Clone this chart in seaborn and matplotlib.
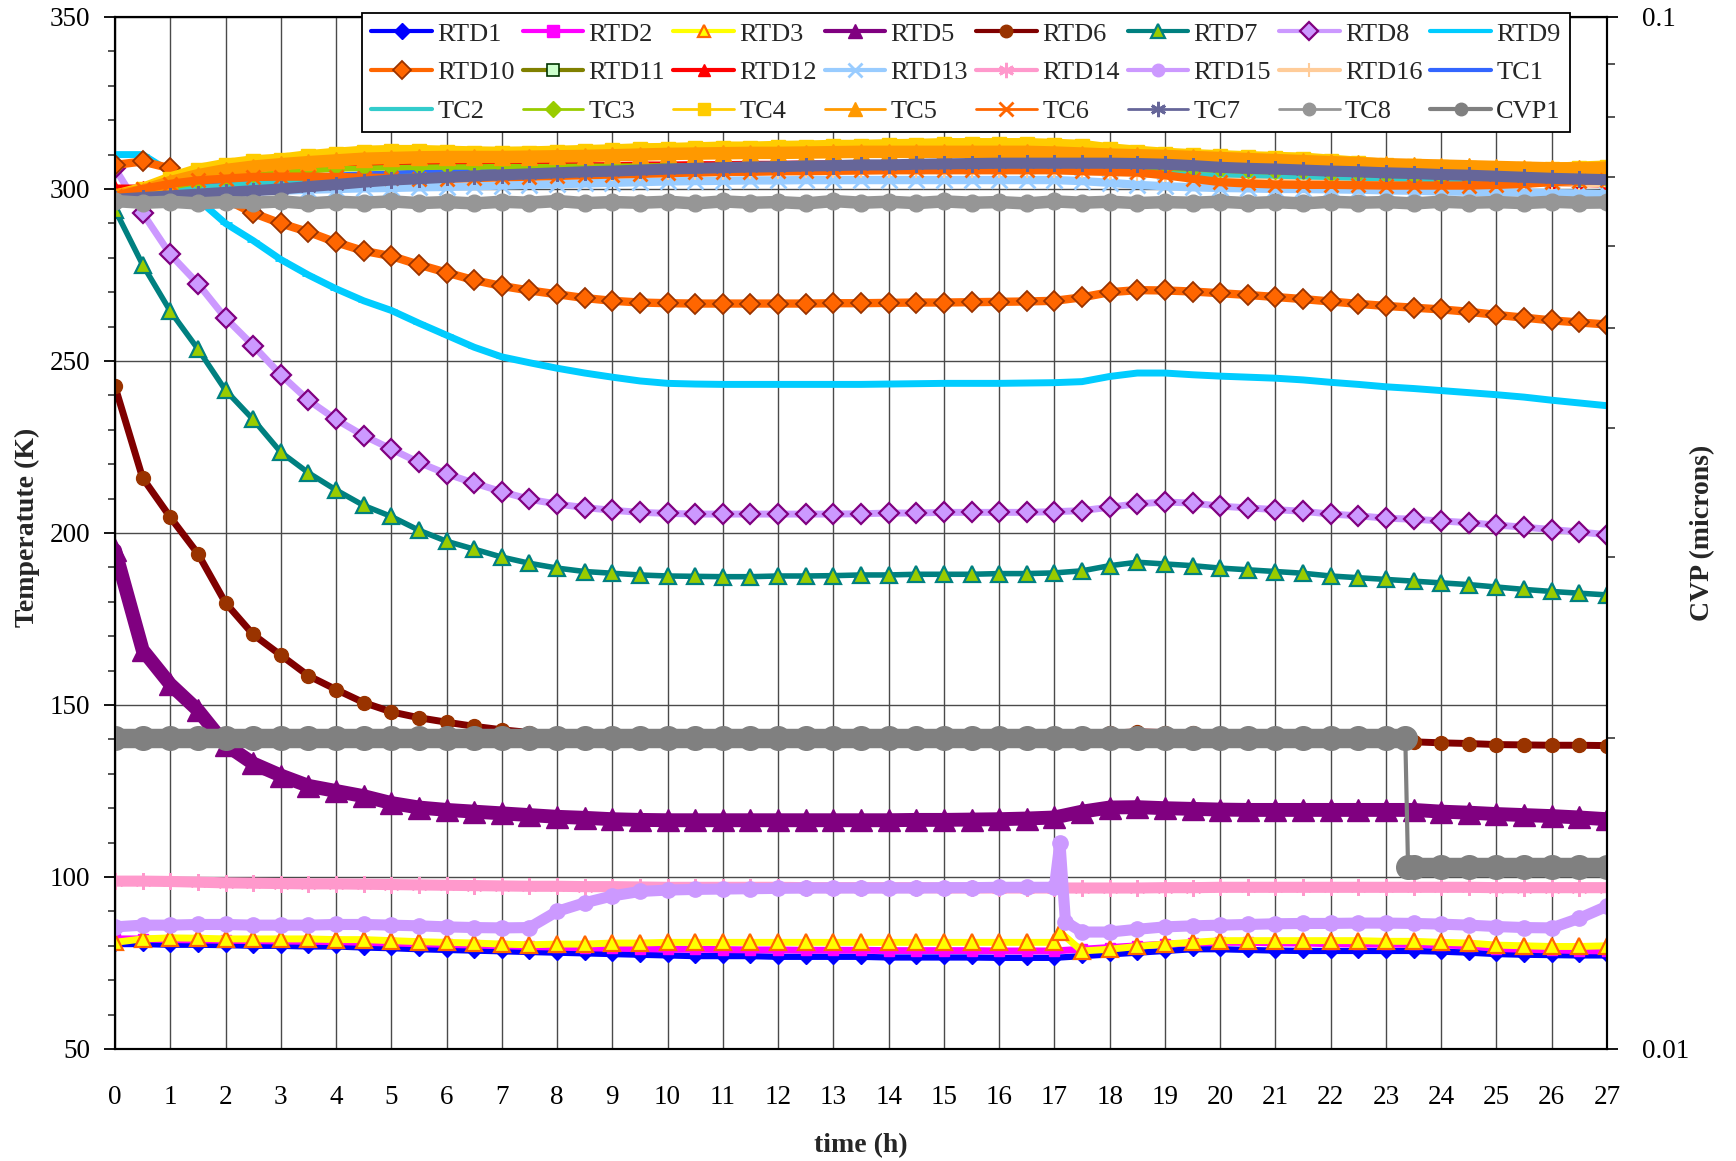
import matplotlib
matplotlib.use("Agg")
import matplotlib.pyplot as plt
from matplotlib.lines import Line2D
from matplotlib.ticker import MultipleLocator, FixedLocator, FixedFormatter, NullFormatter
import pandas as pd
import seaborn as sns

# ---------------- data ----------------
hours = [i * 0.5 for i in range(55)]          # 0 .. 27 h, every 0.5 h
hours_spike1 = hours[:35] + [17.1] + hours[35:]          # RTD3
hours_spike2 = hours[:35] + [17.1, 17.2] + hours[35:]    # RTD15
cvp_hours = hours[:47] + [23.35, 23.4] + hours[47:]

rtd1 = [80.5, 80.5, 80.3, 80.3, 80.2, 80.0, 80.0, 79.8, 79.8, 79.5,
        79.3, 79.0, 78.8, 78.6, 78.4, 78.2, 78.0, 77.8, 77.6, 77.4,
        77.2, 77.0, 77.0, 77.0, 76.8, 76.8, 76.8, 76.8, 76.6, 76.6,
        76.6, 76.6, 76.5, 76.5, 76.5, 77.0, 77.5, 78.0, 78.5, 79.0,
        79.0, 78.8, 78.6, 78.5, 78.5, 78.5, 78.5, 78.5, 78.3, 78.0,
        77.6, 77.4, 77.3, 77.2, 77.2]
rtd2 = [82.0, 82.0, 81.8, 81.7, 81.6, 81.5, 81.4, 81.3, 81.2, 81.0,
        80.8, 80.6, 80.4, 80.2, 80.0, 79.8, 79.6, 79.4, 79.3, 79.2,
        79.0, 79.0, 78.9, 78.8, 78.8, 78.7, 78.7, 78.7, 78.6, 78.6,
        78.6, 78.6, 78.5, 78.5, 78.5, 79.0, 79.5, 80.0, 80.5, 80.8,
        81.0, 81.0, 80.8, 80.8, 80.6, 80.5, 80.5, 80.4, 80.2, 80.0,
        79.2, 79.0, 78.8, 78.6, 78.5]
rtd3 = [81.0, 82.0, 82.3, 82.2, 82.0, 82.0, 82.0, 82.0, 81.8, 81.8,
        81.5, 81.2, 81.0, 80.8, 80.5, 80.3, 80.5, 80.5, 80.8, 80.8,
        81.0, 81.0, 81.0, 81.0, 81.0, 81.0, 81.0, 81.0, 81.0, 81.0,
        81.0, 81.0, 81.0, 81.0, 81.0, 84.0, 78.5, 79.0, 79.8, 80.5, 81.0,
        81.5, 81.5, 81.5, 81.5, 81.5, 81.5, 81.3, 81.3, 81.0, 80.8,
        80.2, 80.0, 79.8, 79.8, 80.0]
rtd5 = [195.0, 166.0, 156.0, 148.5, 138.5, 133.0, 129.5, 126.5, 125.0, 123.5,
        121.5, 120.2, 119.5, 119.0, 118.5, 118.0, 117.5, 117.2, 116.8, 116.6,
        116.5, 116.5, 116.5, 116.5, 116.5, 116.5, 116.5, 116.5, 116.5, 116.6,
        116.6, 116.7, 116.8, 117.0, 117.3, 119.0, 120.2, 120.3, 120.0, 119.8,
        119.6, 119.5, 119.5, 119.5, 119.5, 119.5, 119.5, 119.5, 119.0, 118.7,
        118.3, 118.0, 117.7, 117.3, 116.8]
rtd6 = [242.6, 216.0, 204.6, 194.0, 179.7, 170.5, 164.5, 158.5, 154.5, 150.7,
        148.0, 146.3, 145.0, 143.8, 142.8, 142.0, 141.5, 141.2, 141.0, 141.0,
        141.0, 141.0, 141.0, 141.0, 141.0, 141.0, 141.0, 141.0, 141.0, 141.0,
        141.0, 141.0, 141.0, 141.0, 141.0, 141.3, 141.8, 142.2, 142.0, 141.8,
        141.5, 141.2, 141.0, 140.6, 140.3, 140.0, 139.6, 139.3, 139.0, 138.8,
        138.5, 138.4, 138.3, 138.3, 138.2]
rtd7 = [294.0, 278.0, 264.5, 253.5, 241.5, 233.0, 223.5, 217.5, 212.5, 208.0,
        204.8, 200.8, 197.6, 195.3, 193.0, 191.2, 189.8, 188.8, 188.3, 187.8,
        187.5, 187.4, 187.3, 187.3, 187.5, 187.5, 187.6, 187.8, 187.8, 188.0,
        188.0, 188.0, 188.2, 188.2, 188.4, 189.0, 190.5, 191.5, 191.0, 190.5,
        189.8, 189.3, 188.8, 188.3, 187.5, 187.0, 186.5, 186.0, 185.5, 185.0,
        184.3, 183.6, 183.0, 182.5, 182.0]
rtd8 = [306.0, 293.0, 281.0, 272.5, 262.5, 254.5, 246.0, 238.6, 233.0, 228.3,
        224.4, 220.5, 217.2, 214.5, 212.0, 209.8, 208.4, 207.4, 206.6, 206.0,
        205.7, 205.5, 205.5, 205.5, 205.5, 205.5, 205.5, 205.6, 205.8, 205.8,
        206.0, 206.0, 206.0, 206.0, 206.2, 206.5, 207.5, 208.5, 209.0, 208.7,
        207.8, 207.3, 206.8, 206.3, 205.5, 205.0, 204.3, 204.0, 203.5, 203.0,
        202.3, 201.7, 201.0, 200.3, 199.5]
rtd9 = [310.0, 310.0, 305.0, 297.0, 290.0, 285.0, 279.5, 275.0, 271.0, 267.5,
        264.7, 261.0, 257.5, 254.0, 251.2, 249.5, 247.9, 246.5, 245.3, 244.2,
        243.5, 243.3, 243.2, 243.2, 243.2, 243.2, 243.2, 243.2, 243.3, 243.4,
        243.5, 243.5, 243.5, 243.6, 243.7, 244.0, 245.5, 246.5, 246.5, 246.0,
        245.6, 245.3, 245.0, 244.5, 243.8, 243.2, 242.5, 242.0, 241.4, 240.8,
        240.2, 239.5, 238.6, 237.8, 237.0]
rtd10 = [307.0, 308.0, 306.0, 301.5, 297.0, 293.0, 290.0, 287.5, 284.5, 282.0,
         280.5, 278.0, 275.7, 273.5, 271.8, 270.5, 269.4, 268.3, 267.5, 267.0,
         266.8, 266.7, 266.7, 266.7, 266.7, 266.7, 266.8, 266.8, 266.9, 267.0,
         267.0, 267.1, 267.2, 267.3, 267.5, 268.5, 270.0, 270.6, 270.5, 270.2,
         269.7, 269.2, 268.6, 268.0, 267.3, 266.6, 266.0, 265.5, 265.0, 264.3,
         263.4, 262.6, 261.8, 261.2, 260.6]
rtd11 = [298.0, 298.8, 299.8, 300.8, 301.6, 302.2, 302.6, 303.0, 303.3, 303.6,
         303.8, 304.0, 304.2, 304.4, 304.6, 304.8, 305.0, 305.2, 305.3, 305.5,
         305.6, 305.7, 305.8, 305.9, 306.0, 306.0, 306.1, 306.2, 306.2, 306.3,
         306.3, 306.4, 306.4, 306.4, 306.4, 306.2, 305.8, 305.4, 305.0, 304.6,
         304.3, 304.0, 303.8, 303.6, 303.4, 303.2, 303.0, 302.8, 302.7, 302.6,
         302.5, 302.4, 302.3, 302.2, 302.1]
rtd12 = [300.5, 300.5, 301.5, 304.5, 306.0, 306.5, 306.8, 307.0, 307.0, 307.0,
         307.0, 307.0, 307.0, 307.0, 307.0, 307.0, 307.0, 307.0, 307.0, 307.2,
         307.2, 307.3, 307.3, 307.4, 307.4, 307.5, 307.5, 307.5, 307.5, 307.5,
         307.5, 307.5, 307.5, 307.5, 307.3, 307.0, 306.5, 306.0, 305.5, 305.0,
         304.5, 304.2, 304.0, 303.7, 303.4, 303.2, 303.0, 302.8, 302.6, 302.4,
         302.2, 302.0, 301.7, 301.4, 301.2]
rtd13 = [297.5, 298.0, 298.5, 298.8, 299.0, 299.3, 299.5, 299.8, 300.0, 300.2,
         300.3, 300.5, 300.6, 300.8, 301.0, 301.2, 301.4, 301.6, 301.8, 302.0,
         302.2, 302.3, 302.4, 302.5, 302.5, 302.6, 302.6, 302.6, 302.6, 302.6,
         302.6, 302.6, 302.6, 302.6, 302.6, 302.3, 301.8, 301.2, 300.8, 300.5,
         300.3, 300.2, 300.0, 300.0, 299.9, 299.8, 299.6, 299.5, 299.3, 299.2,
         299.0, 299.0, 298.8, 298.7, 298.5]
rtd14 = [98.8, 98.8, 98.7, 98.5, 98.3, 98.2, 98.1, 98.0, 98.0, 97.9,
         97.8, 97.7, 97.6, 97.5, 97.4, 97.3, 97.3, 97.2, 97.2, 97.1,
         97.0, 97.0, 97.0, 97.0, 97.0, 96.9, 96.9, 96.9, 96.9, 96.9,
         96.8, 96.8, 96.8, 96.8, 96.8, 96.8, 96.8, 96.8, 96.9, 96.9,
         97.0, 97.0, 97.0, 97.0, 97.0, 97.0, 97.0, 97.0, 97.0, 97.0,
         96.9, 96.9, 96.9, 96.9, 96.9]
rtd15 = [85.5, 86.0, 86.0, 86.2, 86.2, 86.0, 86.0, 86.0, 86.2, 86.2,
         86.0, 85.8, 85.5, 85.3, 85.2, 85.3, 90.0, 92.5, 94.5, 95.8,
         96.2, 96.4, 96.5, 96.6, 96.7, 96.8, 96.8, 96.8, 96.8, 96.8,
         96.9, 96.9, 97.0, 97.0, 97.0, 110.0, 87.0, 84.0, 84.0, 84.8, 85.5, 85.8,
         86.0, 86.2, 86.4, 86.5, 86.5, 86.6, 86.6, 86.5, 86.3, 86.0,
         85.6, 85.3, 85.2, 88.0, 91.5]
rtd16 = [298.0, 298.5, 299.2, 300.0, 300.6, 301.2, 301.7, 302.0, 302.3, 302.6,
         302.8, 303.0, 303.2, 303.4, 303.6, 303.7, 303.8, 304.0, 304.1, 304.2,
         304.3, 304.4, 304.5, 304.6, 304.7, 304.8, 304.8, 304.9, 305.0, 305.0,
         305.0, 305.0, 305.0, 305.0, 305.0, 304.8, 304.5, 304.2, 303.8, 303.5,
         303.2, 303.0, 302.8, 302.6, 302.5, 302.3, 302.2, 302.0, 301.9, 301.8,
         301.7, 301.6, 301.5, 301.4, 301.3]
tc1 = [298.0, 299.0, 300.0, 301.0, 302.0, 302.6, 303.2, 303.6, 304.0, 304.3,
       304.6, 304.8, 305.0, 305.2, 305.3, 305.5, 305.6, 305.8, 305.9, 306.0,
       306.1, 306.2, 306.3, 306.4, 306.5, 306.6, 306.7, 306.8, 306.9, 307.0,
       307.0, 307.1, 307.1, 307.2, 307.2, 307.1, 307.0, 306.8, 306.5, 306.2,
       306.0, 305.8, 305.6, 305.5, 305.4, 305.3, 305.2, 305.1, 305.1, 305.0,
       305.0, 305.1, 305.2, 305.3, 305.4]
tc2 = [298.0, 298.7, 299.5, 300.3, 301.0, 301.6, 302.1, 302.5, 302.9, 303.2,
       303.5, 303.7, 303.9, 304.1, 304.3, 304.5, 304.7, 304.9, 305.0, 305.1,
       305.2, 305.3, 305.4, 305.5, 305.6, 305.7, 305.8, 305.8, 305.9, 306.0,
       306.0, 306.0, 306.0, 306.0, 306.0, 305.8, 305.5, 305.2, 304.8, 304.5,
       304.2, 304.0, 303.8, 303.6, 303.4, 303.2, 303.0, 302.9, 302.8, 302.7,
       302.6, 302.5, 302.4, 302.3, 302.2]
tc3 = [298.0, 299.0, 300.5, 302.0, 303.0, 304.0, 304.8, 305.3, 305.8, 306.0,
       306.2, 306.3, 306.4, 306.4, 306.5, 306.5, 306.5, 306.6, 306.6, 306.7,
       306.7, 306.7, 306.8, 306.8, 306.8, 306.9, 306.9, 307.0, 307.0, 307.0,
       307.0, 307.0, 307.0, 307.0, 307.0, 306.8, 306.5, 306.2, 306.0, 305.8,
       305.5, 305.2, 305.0, 304.8, 304.5, 304.3, 304.0, 303.8, 303.6, 303.4,
       303.2, 303.0, 302.8, 302.7, 302.6]
tc4 = [298.0, 300.0, 303.0, 305.5, 307.0, 308.0, 308.5, 309.5, 310.2, 310.8,
       311.0, 311.0, 310.8, 310.6, 310.5, 310.6, 310.8, 311.0, 311.2, 311.5,
       311.6, 311.8, 312.0, 312.0, 312.2, 312.3, 312.5, 312.5, 312.7, 312.8,
       313.0, 313.0, 313.0, 313.0, 312.8, 312.5, 311.5, 310.8, 310.2, 309.8,
       309.5, 309.2, 309.0, 308.8, 308.2, 307.6, 307.0, 306.6, 306.3, 306.0,
       305.8, 305.8, 305.8, 306.2, 306.5]
tc5 = [298.0, 299.5, 302.0, 304.0, 305.5, 306.5, 307.2, 307.8, 308.3, 308.8,
       309.0, 309.2, 309.3, 309.3, 309.3, 309.4, 309.5, 309.6, 309.8, 310.0,
       310.2, 310.3, 310.4, 310.5, 310.5, 310.6, 310.7, 310.8, 310.8, 310.8,
       310.8, 310.8, 310.8, 310.8, 310.6, 310.3, 310.0, 309.8, 309.6, 309.3,
       309.0, 308.7, 308.4, 308.1, 307.8, 307.5, 307.2, 307.0, 306.8, 306.6,
       306.4, 306.2, 306.0, 306.0, 306.2]
tc6 = [298.0, 300.0, 301.5, 302.5, 303.0, 303.5, 303.6, 303.6, 303.5, 303.3,
       303.2, 303.0, 303.0, 303.2, 303.4, 303.6, 303.8, 304.0, 304.2, 304.4,
       304.6, 304.8, 305.0, 305.0, 305.2, 305.2, 305.3, 305.4, 305.5, 305.5,
       305.5, 305.5, 305.5, 305.5, 305.5, 305.2, 305.0, 304.8, 304.0, 303.0,
       302.0, 301.6, 301.3, 301.2, 301.2, 301.1, 301.0, 301.0, 301.0, 301.0,
       301.2, 301.5, 302.0, 302.3, 302.5]
tc7 = [297.0, 297.5, 298.0, 298.5, 299.0, 299.5, 300.0, 300.7, 301.3, 302.0,
       302.6, 303.0, 303.4, 303.8, 304.1, 304.4, 304.7, 305.0, 305.2, 305.5,
       305.8, 306.0, 306.2, 306.4, 306.5, 306.7, 306.8, 307.0, 307.0, 307.2,
       307.3, 307.4, 307.5, 307.5, 307.5, 307.5, 307.5, 307.4, 307.2, 306.8,
       306.3, 306.0, 305.8, 305.5, 305.2, 305.0, 304.7, 304.5, 304.2, 304.0,
       303.7, 303.4, 303.1, 302.9, 302.7]
tc8 = [296.5, 296.0, 296.3, 295.8, 296.2, 296.0, 296.4, 295.8, 296.3, 296.0,
       296.4, 295.9, 296.2, 295.8, 296.3, 296.0, 296.5, 295.9, 296.2, 296.0,
       296.3, 295.8, 296.4, 296.0, 296.2, 295.8, 296.5, 296.0, 296.3, 295.9,
       296.4, 296.0, 296.2, 295.8, 296.4, 296.0, 296.3, 295.9, 296.2, 296.0,
       296.3, 295.9, 296.2, 295.8, 296.3, 296.0, 296.2, 295.8, 296.3, 296.0,
       296.2, 295.9, 296.3, 296.0, 296.1]
cvp1 = [0.020, 0.020, 0.020, 0.020, 0.020, 0.020, 0.020, 0.020, 0.020, 0.020,
        0.020, 0.020, 0.020, 0.020, 0.020, 0.020, 0.020, 0.020, 0.020, 0.020,
        0.020, 0.020, 0.020, 0.020, 0.020, 0.020, 0.020, 0.020, 0.020, 0.020,
        0.020, 0.020, 0.020, 0.020, 0.020, 0.020, 0.020, 0.020, 0.020, 0.020,
        0.020, 0.020, 0.020, 0.020, 0.020, 0.020, 0.020, 0.020, 0.015, 0.015,
        0.015, 0.015, 0.015, 0.015, 0.015, 0.015, 0.015]

series_names = ["RTD1", "RTD2", "RTD3", "RTD5", "RTD6", "RTD7", "RTD8", "RTD9",
                "RTD10", "RTD11", "RTD12", "RTD13", "RTD14", "RTD15", "RTD16", "TC1",
                "TC2", "TC3", "TC4", "TC5", "TC6", "TC7", "TC8", "CVP1"]

series_data = {
    "RTD1": (hours, rtd1), "RTD2": (hours, rtd2), "RTD3": (hours_spike1, rtd3),
    "RTD5": (hours, rtd5), "RTD6": (hours, rtd6), "RTD7": (hours, rtd7),
    "RTD8": (hours, rtd8), "RTD9": (hours, rtd9), "RTD10": (hours, rtd10),
    "RTD11": (hours, rtd11), "RTD12": (hours, rtd12), "RTD13": (hours, rtd13),
    "RTD14": (hours, rtd14), "RTD15": (hours_spike2, rtd15), "RTD16": (hours, rtd16),
    "TC1": (hours, tc1), "TC2": (hours, tc2), "TC3": (hours, tc3), "TC4": (hours, tc4),
    "TC5": (hours, tc5), "TC6": (hours, tc6), "TC7": (hours, tc7), "TC8": (hours, tc8),
    "CVP1": (cvp_hours, cvp1),
}

ast6 = (6, 2, 0)
# color, marker, plot markersize, face, edge, edge width, plot linewidth, legend linewidth, legend markersize
styles = {
    "RTD1": ("#0000FF", "D", 7, "#0000FF", "#0000FF", 1.0, 4.5, 3.0, 8),
    "RTD2": ("#FF00FF", "s", 7, "#FF00FF", "#FF00FF", 1.0, 5.0, 3.0, 8),
    "RTD3": ("#FFFF00", "^", 11, "#FFFF00", "#FF6600", 1.6, 5.0, 3.0, 9),
    "RTD5": ("#800080", "^", 16, "#800080", "#800080", 1.0, 10.0, 3.0, 10),
    "RTD6": ("#800000", "o", 10, "#993300", "#993300", 1.0, 5.0, 3.0, 9),
    "RTD7": ("#008080", "^", 12, "#99CC00", "#008080", 1.6, 4.0, 3.0, 10),
    "RTD8": ("#CC99FF", "D", 10, "#CC99FF", "#800080", 1.6, 5.0, 3.0, 9),
    "RTD9": ("#00CCFF", "_", 8, "#00CCFF", "#00CCFF", 2.0, 5.0, 3.0, 8),
    "RTD10": ("#FF6600", "D", 10, "#FF6600", "#993300", 1.3, 6.0, 3.0, 9),
    "RTD11": ("#808000", "s", 7, "#CCFFCC", "#003300", 1.2, 4.0, 3.0, 8),
    "RTD12": ("#FF0000", "^", 8, "#FF0000", "#FF0000", 1.0, 4.0, 3.0, 9),
    "RTD13": ("#99CCFF", "x", 11, "#99CCFF", "#99CCFF", 2.0, 6.0, 3.0, 10),
    "RTD14": ("#FF99CC", ast6, 12, "#FF99CC", "#FF99CC", 2.0, 8.0, 3.0, 11),
    "RTD15": ("#CC99FF", "o", 11, "#CC99FF", "#CC99FF", 1.0, 8.0, 3.0, 9),
    "RTD16": ("#FFCC99", "+", 9, "#FFCC99", "#FFCC99", 1.5, 4.0, 3.0, 10),
    "TC1": ("#3366FF", "_", 8, "#3366FF", "#3366FF", 2.0, 4.0, 3.0, 8),
    "TC2": ("#33CCCC", "_", 8, "#33CCCC", "#33CCCC", 2.0, 4.0, 3.0, 8),
    "TC3": ("#99CC00", "D", 7, "#99CC00", "#99CC00", 1.0, 4.0, 2.0, 8),
    "TC4": ("#FFCC00", "s", 10, "#FFCC00", "#FFCC00", 1.0, 9.0, 2.0, 8),
    "TC5": ("#FF9900", "^", 12, "#FF9900", "#FF9900", 1.0, 9.0, 2.0, 10),
    "TC6": ("#FF6600", "x", 10, "#FF6600", "#FF6600", 2.0, 6.0, 2.0, 10),
    "TC7": ("#666699", ast6, 12, "#666699", "#666699", 2.0, 8.0, 2.0, 11),
    "TC8": ("#969696", "o", 12, "#969696", "#969696", 1.0, 9.0, 2.0, 9),
    "CVP1": ("#808080", "o", 17, "#808080", "#808080", 1.0, 3.0, 3.0, 9),
}

# ---------------- figure ----------------
sns.set_style("white")
plt.rcParams["font.family"] = ["Liberation Serif", "DejaVu Serif"]

fig = plt.figure(figsize=(17.36, 11.61), dpi=100)
ax = fig.add_axes([0.06624, 0.09647, 0.85945, 0.88889])
ax2 = ax.twinx()

for name in series_names:
    xs, ys = series_data[name]
    df = pd.DataFrame({"hours": xs, "value": ys})
    c, m, ms, mfc, mec, mew, lw, _, _ = styles[name]
    if name == "CVP1":
        # thin connecting line, then each pressure level as a thick beaded band
        sns.lineplot(data=df, x="hours", y="value", ax=ax2, color=c, linewidth=lw,
                     estimator=None, sort=False, legend=False)
        for level in sorted(set(ys), reverse=True):
            sub = df[df["value"] == level]
            sns.lineplot(data=sub, x="hours", y="value", ax=ax2, color=c, marker=m,
                         markersize=ms, markerfacecolor=mfc, markeredgecolor=mec,
                         markeredgewidth=mew, linewidth=14, estimator=None,
                         sort=False, legend=False, solid_capstyle="round")
        continue
    sns.lineplot(data=df, x="hours", y="value", ax=ax, color=c, marker=m,
                 markersize=ms, markerfacecolor=mfc, markeredgecolor=mec,
                 markeredgewidth=mew, linewidth=lw, estimator=None, sort=False,
                 legend=False, solid_capstyle="round")

# ---- primary axis ----
ax.set_xlim(0, 27)
ax.set_ylim(50, 350)
ax.xaxis.set_major_locator(MultipleLocator(1))
ax.xaxis.set_minor_locator(MultipleLocator(0.2))
ax.yaxis.set_major_locator(MultipleLocator(50))
ax.yaxis.set_minor_locator(MultipleLocator(10))
ax.set_axisbelow(True)
ax.grid(True, which="major", color="#4a4a4a", linewidth=1.0)
ax.tick_params(axis="both", which="major", direction="out", length=8, width=1.3,
               labelsize=19.5, colors="black")
ax.tick_params(axis="both", which="minor", direction="out", length=5, width=1.1)
ax.tick_params(axis="x", which="major", pad=18)
ax.tick_params(axis="y", which="major", pad=10)
ax.tick_params(axis="y", which="both", right=False)
for sp in ax.spines.values():
    sp.set_color("black")
    sp.set_linewidth(1.5)

ax.set_xlabel("time (h)", fontsize=20, fontweight="bold")
ax.set_ylabel("Temperatute (K)", fontsize=20, fontweight="bold")
ax.xaxis.label.set_va("center")
ax.yaxis.label.set_va("center")
ax.xaxis.set_label_coords(0.5, -0.094)
ax.yaxis.set_label_coords(-0.059, 0.505)

# ---- secondary axis ----
ax2.set_yscale("log")
ax2.set_ylim(0.01, 0.1)
ax2.yaxis.set_major_locator(FixedLocator([0.01, 0.1]))
ax2.yaxis.set_major_formatter(FixedFormatter(["0.01", "0.1"]))
ax2.yaxis.set_minor_locator(FixedLocator([0.02, 0.03, 0.04, 0.05, 0.06, 0.07, 0.08, 0.09]))
ax2.yaxis.set_minor_formatter(NullFormatter())
ax2.tick_params(axis="y", which="major", direction="out", length=8, width=1.3,
                labelsize=19.5, pad=17, colors="black")
ax2.tick_params(axis="y", which="minor", direction="out", length=6, width=1.1)
ax2.set_ylabel("CVP (microns)", fontsize=20, fontweight="bold")
ax2.yaxis.label.set_va("center")
ax2.yaxis.set_label_coords(1.064, 0.5)
for sp in ax2.spines.values():
    sp.set_color("black")
    sp.set_linewidth(1.5)

# ---- legend (row-major like the original) ----
handles = {}
for name in series_names:
    c, m, ms, mfc, mec, mew, lw, llw, lms = styles[name]
    handles[name] = Line2D([], [], color=c, marker=m, markersize=lms,
                           markerfacecolor=mfc, markeredgecolor=mec,
                           markeredgewidth=mew, linewidth=llw)
ncol, nrow = 8, 3
order = [series_names[r * ncol + c] for c in range(ncol) for r in range(nrow)]
leg = ax2.legend([handles[n] for n in order], order, ncol=ncol, loc="upper right",
                 bbox_to_anchor=(0.9752, 1.004), borderaxespad=0, fontsize=19,
                 handlelength=2.3, handletextpad=0.2, columnspacing=0.3,
                 labelspacing=0.58, borderpad=0.35, frameon=True, fancybox=False,
                 framealpha=1, edgecolor="black")
leg.get_frame().set_linewidth(1.3)
leg.set_zorder(10)

fig.savefig("out.png", dpi=100)
